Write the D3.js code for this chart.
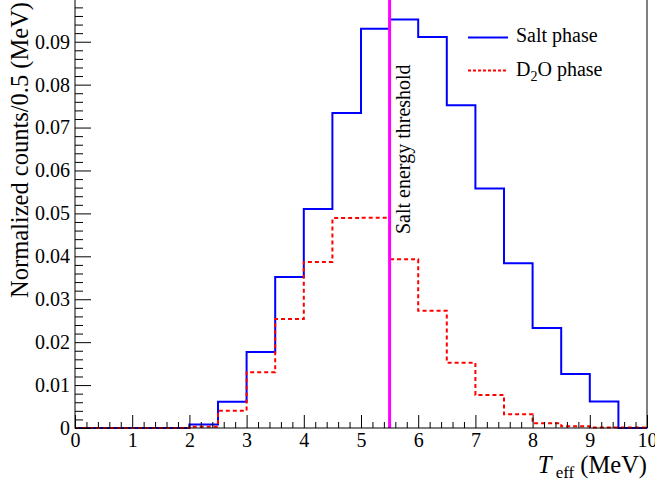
<!DOCTYPE html>
<html>
<head>
<meta charset="utf-8">
<script src="https://cdn.jsdelivr.net/npm/d3@7"></script>
<style>
  html, body { margin: 0; padding: 0; background: #fff; }
  svg { display: block; }
  text { font-family: "Liberation Serif", "DejaVu Serif", serif; fill: #000; }
</style>
</head>
<body>
<svg id="chart" width="655" height="482"></svg>
<script>
// ---- Data ----
const binEdges = [0,0.5,1,1.5,2,2.5,3,3.5,4,4.5,5,5.5,6,6.5,7,7.5,8,8.5,9,9.5];
const saltValues = [0,0,0,0,0.0008,0.0061,0.0177,0.0352,0.0510,0.0734,0.0930,0.0952,0.0911,0.0752,0.0558,0.0384,0.0233,0.0126,0.0062,0];
const d2oValues  = [0,0,0,0,0.0003,0.0040,0.0130,0.0254,0.0387,0.0489,0.0490,0.0393,0.0273,0.0152,0.0077,0.0032,0.0011,0.0004,0.0001,0.0001];
const xTickValues = [0,1,2,3,4,5,6,7,8,9,10];
const yTickValues = [0,0.01,0.02,0.03,0.04,0.05,0.06,0.07,0.08,0.09];
const thresholdValue = 5.5;
const seriesNames = ["Salt phase", "D2O phase"];

const svg = d3.select("#chart");
const x = d3.scaleLinear().domain([0,10]).range([75,647]);
const y = d3.scaleLinear().domain([0,0.1]).range([428,-1.2]);

// histogram step paths
function stepPoints(vals){
  const pts = binEdges.map((e,i)=>[e, vals[i]]);
  pts.push([10, vals[vals.length-1]]);
  return pts;
}
const line = d3.line().x(d=>x(d[0])).y(d=>y(d[1])).curve(d3.curveStepAfter);

svg.append("path").attr("d", line(stepPoints(saltValues)))
  .attr("fill","none").attr("stroke","#0000ff").attr("stroke-width",2);
svg.append("path").attr("d", line(stepPoints(d2oValues)))
  .attr("fill","none").attr("stroke","#ff0000").attr("stroke-width",2)
  .attr("stroke-dasharray","4,3");

// threshold line
svg.append("line")
  .attr("x1", x(thresholdValue)).attr("x2", x(thresholdValue))
  .attr("y1", y(0)).attr("y2", 0)
  .attr("stroke","#ff00ff").attr("stroke-width",3);

svg.append("text")
  .attr("transform", `translate(${x(thresholdValue)+20},${234}) rotate(-90)`)
  .attr("font-size", 20)
  .text("Salt energy threshold");

// axes
const xMinor = d3.range(0, 10.001, 0.2).map(v=>+v.toFixed(1)).filter(v=>!xTickValues.includes(v));
const yMinor = d3.range(0, 0.1, 0.002).map(v=>+v.toFixed(3)).filter(v=>!yTickValues.includes(v));

const gx = svg.append("g").attr("transform", `translate(0,${y(0)})`)
  .call(d3.axisBottom(x).tickValues(xTickValues).tickSize(-13).tickPadding(5).tickFormat(d3.format("d")));
const gxm = svg.append("g").attr("transform", `translate(0,${y(0)})`)
  .call(d3.axisBottom(x).tickValues(xMinor).tickSize(-6).tickFormat(""));
const gy = svg.append("g").attr("transform", `translate(${x(0)},0)`)
  .call(d3.axisLeft(y).tickValues(yTickValues).tickSize(-16).tickPadding(5)
        .tickFormat(d => d===0 ? "0" : d3.format(".2f")(d)));
const gym = svg.append("g").attr("transform", `translate(${x(0)},0)`)
  .call(d3.axisLeft(y).tickValues(yMinor).tickSize(-8).tickFormat(""));

[gx,gxm,gy,gym].forEach(g=>{
  g.select(".domain").remove();
  g.selectAll(".tick line").attr("stroke","#000").attr("stroke-width",1);
  g.selectAll(".tick text").attr("font-family","Liberation Serif").attr("font-size",20).attr("fill","#000");
});

// frame
svg.append("rect")
  .attr("x", x(0)).attr("y", y(0.1))
  .attr("width", x(10)-x(0)).attr("height", y(0)-y(0.1))
  .attr("fill","none").attr("stroke","#000").attr("stroke-width",1);

// axis titles
svg.append("text")
  .attr("transform", `translate(28,2) rotate(-90)`)
  .attr("text-anchor","end")
  .attr("font-size", 24.5)
  .text("Normalized counts/0.5 (MeV)");

const xt = svg.append("text")
  .attr("x", 647).attr("y", 473)
  .attr("text-anchor","end")
  .attr("font-size", 24.5);
xt.append("tspan").attr("font-style","italic").text("T");
xt.append("tspan").attr("font-size",17).attr("dy",5).text(" eff");
xt.append("tspan").attr("dy",-5).text(" (MeV)");

// legend
const lg = svg.append("g");
lg.append("line").attr("x1",468).attr("x2",508).attr("y1",37.5).attr("y2",37.5)
  .attr("stroke","#0000ff").attr("stroke-width",2);
lg.append("text").attr("x",516).attr("y",42).attr("font-size",20).text(seriesNames[0]);
lg.append("line").attr("x1",468).attr("x2",508).attr("y1",70.5).attr("y2",70.5)
  .attr("stroke","#ff0000").attr("stroke-width",2).attr("stroke-dasharray","3,2");
const t2 = lg.append("text").attr("x",516).attr("y",76).attr("font-size",20);
t2.append("tspan").text("D");
t2.append("tspan").attr("font-size",14).attr("dy",5).text("2");
t2.append("tspan").attr("dy",-5).text("O phase");
</script>
</body>
</html>
